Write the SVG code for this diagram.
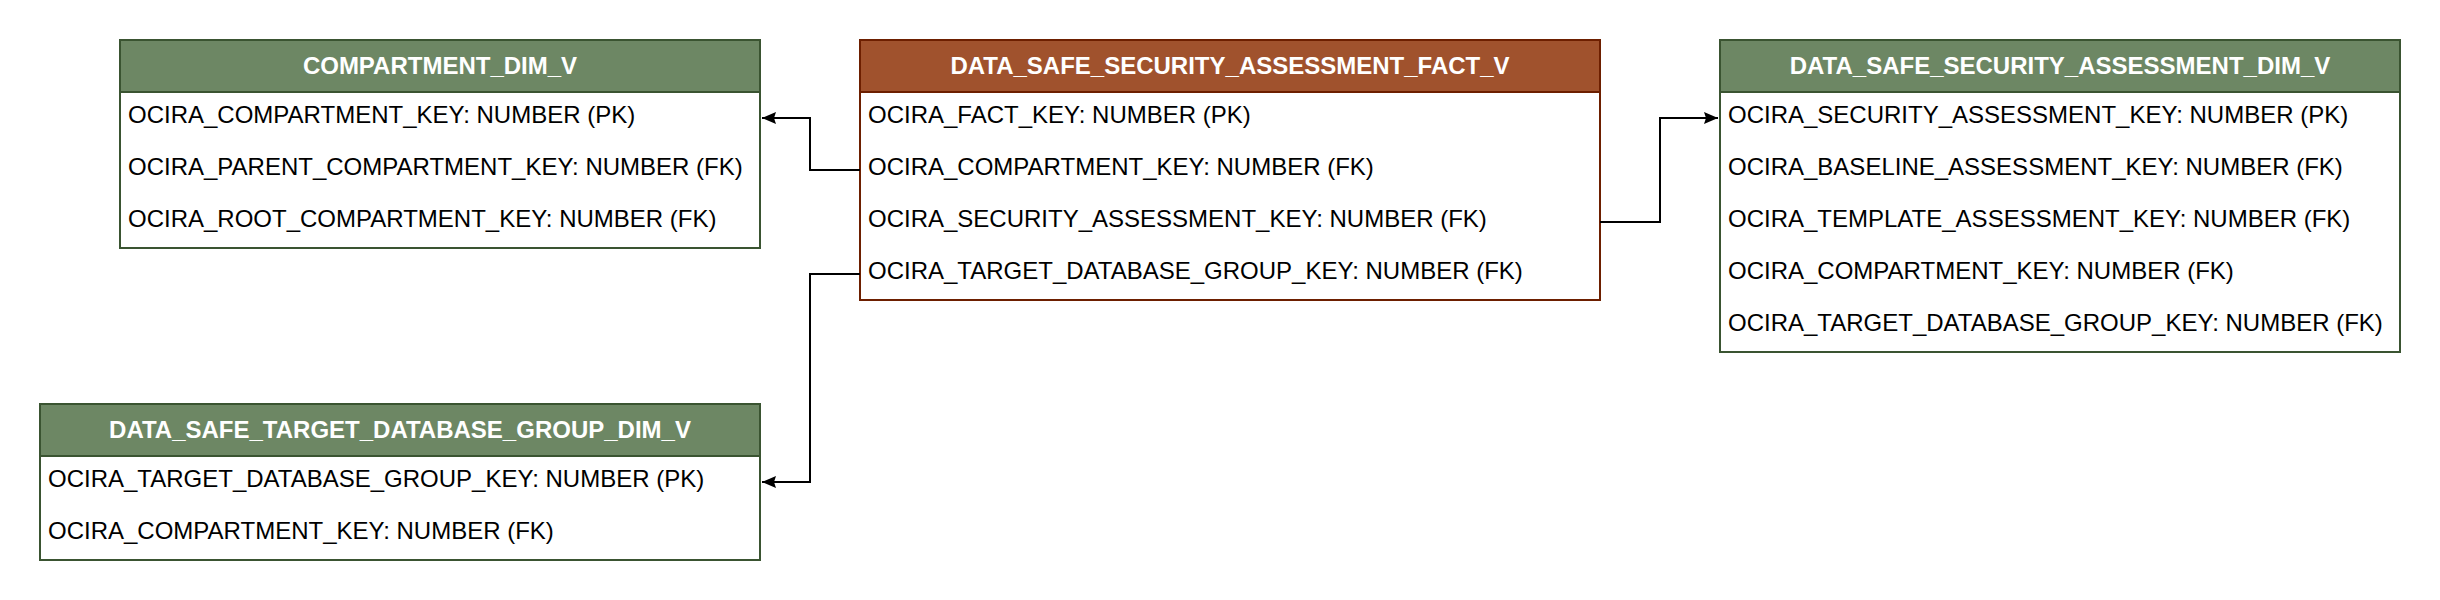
<svg xmlns="http://www.w3.org/2000/svg" width="2440" height="600" viewBox="0 0 2440 600">
<style>
.body{fill:#ffffff;stroke-width:2}
.g{stroke:#3A5431}
.gh{fill:#6d8764;stroke:#3A5431;stroke-width:2}
.s{stroke:#6D1F00}
.sh{fill:#a0522d;stroke:#6D1F00;stroke-width:2}
.title{font-family:"Liberation Sans",Arial,Helvetica,sans-serif;font-size:24px;font-weight:bold;fill:#ffffff;text-anchor:middle}
.row{font-family:"Liberation Sans",Arial,Helvetica,sans-serif;font-size:24px;fill:#000000}
.conn{fill:none;stroke:#000000;stroke-width:2}
</style>
<defs>
<marker id="arrow" viewBox="0 0 14 12" markerWidth="14" markerHeight="12" refX="14" refY="6" orient="auto" markerUnits="userSpaceOnUse">
<path d="M0,0 L14,6 L0,12 L2,6 Z" fill="#000000"/>
</marker>
</defs>
<rect width="2440" height="600" fill="#ffffff"/>
<g id="compartment_dim_v">
<rect class="body g" x="120" y="40" width="640" height="208"/>
<rect class="gh" x="120" y="40" width="640" height="52"/>
<text class="title" x="440" y="74">COMPARTMENT_DIM_V</text>
<text class="row" x="128" y="122.5">OCIRA_COMPARTMENT_KEY: NUMBER (PK)</text>
<text class="row" x="128" y="174.5">OCIRA_PARENT_COMPARTMENT_KEY: NUMBER (FK)</text>
<text class="row" x="128" y="226.5">OCIRA_ROOT_COMPARTMENT_KEY: NUMBER (FK)</text>
</g>
<g id="fact_v">
<rect class="body s" x="860" y="40" width="740" height="260"/>
<rect class="sh" x="860" y="40" width="740" height="52"/>
<text class="title" x="1230" y="74">DATA_SAFE_SECURITY_ASSESSMENT_FACT_V</text>
<text class="row" x="868" y="122.5">OCIRA_FACT_KEY: NUMBER (PK)</text>
<text class="row" x="868" y="174.5">OCIRA_COMPARTMENT_KEY: NUMBER (FK)</text>
<text class="row" x="868" y="226.5">OCIRA_SECURITY_ASSESSMENT_KEY: NUMBER (FK)</text>
<text class="row" x="868" y="278.5">OCIRA_TARGET_DATABASE_GROUP_KEY: NUMBER (FK)</text>
</g>
<g id="security_assessment_dim_v">
<rect class="body g" x="1720" y="40" width="680" height="312"/>
<rect class="gh" x="1720" y="40" width="680" height="52"/>
<text class="title" x="2060" y="74">DATA_SAFE_SECURITY_ASSESSMENT_DIM_V</text>
<text class="row" x="1728" y="122.5">OCIRA_SECURITY_ASSESSMENT_KEY: NUMBER (PK)</text>
<text class="row" x="1728" y="174.5">OCIRA_BASELINE_ASSESSMENT_KEY: NUMBER (FK)</text>
<text class="row" x="1728" y="226.5">OCIRA_TEMPLATE_ASSESSMENT_KEY: NUMBER (FK)</text>
<text class="row" x="1728" y="278.5">OCIRA_COMPARTMENT_KEY: NUMBER (FK)</text>
<text class="row" x="1728" y="330.5">OCIRA_TARGET_DATABASE_GROUP_KEY: NUMBER (FK)</text>
</g>
<g id="target_database_group_dim_v">
<rect class="body g" x="40" y="404" width="720" height="156"/>
<rect class="gh" x="40" y="404" width="720" height="52"/>
<text class="title" x="400" y="438">DATA_SAFE_TARGET_DATABASE_GROUP_DIM_V</text>
<text class="row" x="48" y="486.5">OCIRA_TARGET_DATABASE_GROUP_KEY: NUMBER (PK)</text>
<text class="row" x="48" y="538.5">OCIRA_COMPARTMENT_KEY: NUMBER (FK)</text>
</g>
<g id="connectors">
<path class="conn" d="M860,170 H810 V118 H762" marker-end="url(#arrow)"/>
<path class="conn" d="M860,274 H810 V482 H762" marker-end="url(#arrow)"/>
<path class="conn" d="M1600,222 H1660 V118 H1718" marker-end="url(#arrow)"/>
</g>
</svg>
